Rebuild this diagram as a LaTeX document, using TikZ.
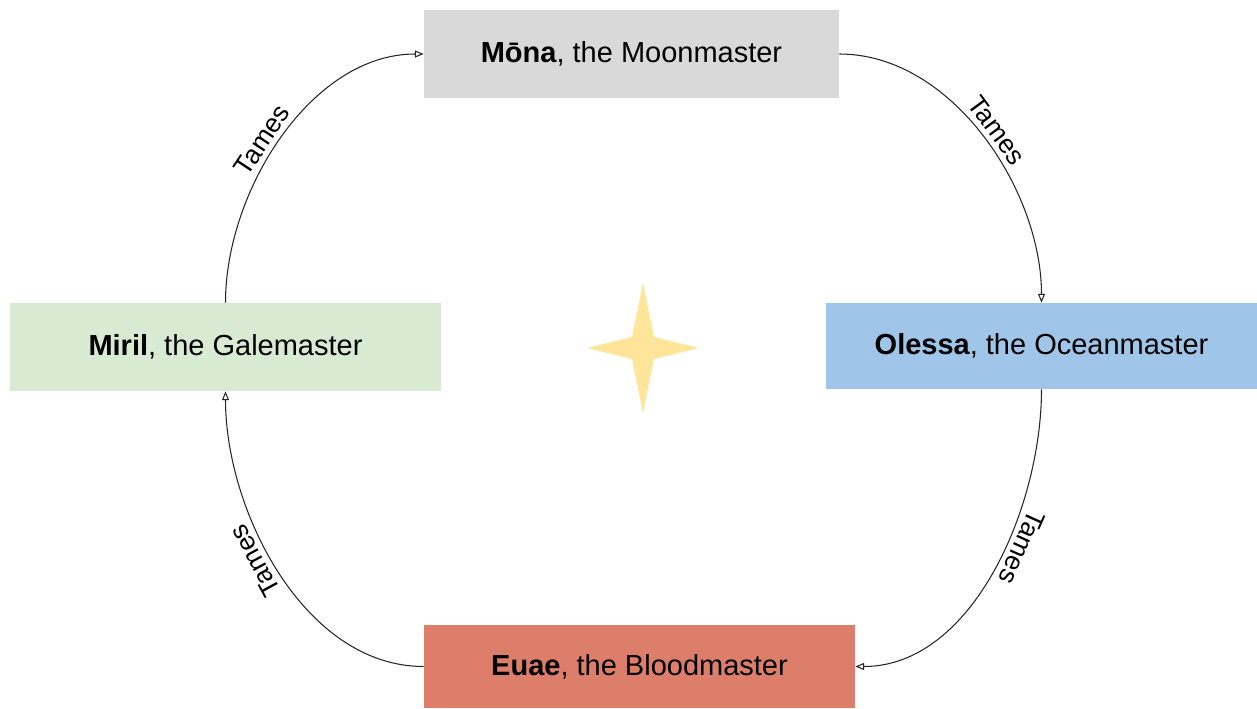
\documentclass[tikz,border=0pt]{standalone}
\usepackage{fontspec}
\setmainfont{Liberation Sans}
\usetikzlibrary{arrows.meta}
\definecolor{moongray}{HTML}{D9D9D9}
\definecolor{oceanblue}{HTML}{9FC5E8}
\definecolor{galegreen}{HTML}{D9EAD3}
\definecolor{bloodred}{HTML}{DD7E6B}
\definecolor{stargold}{HTML}{FFE599}
\begin{document}
\begin{tikzpicture}[
    master/.style={minimum width=8.62cm, minimum height=1.76cm, inner sep=0pt, font=\fontsize{16.5}{20}\selectfont},
    tames/.style={-{Triangle[open, length=5pt, width=4pt]}, line width=0.6pt, draw=black!85, looseness=0.9},
    lbl/.style={sloped, above, allow upside down, inner sep=3pt, font=\fontsize{15}{18}\selectfont}]
  \useasboundingbox (0,0) rectangle (25.14,14.16);
  % the four masters
  \node[master, fill=moongray, minimum width=8.3cm] (mona) at (12.63,13.08) {\textbf{Mōna}, the Moonmaster};
  \node[master, fill=oceanblue, minimum height=1.72cm] (olessa) at (20.83,7.24) {\textbf{Olessa}, the Oceanmaster};
  \node[master, fill=galegreen] (miril) at (4.51,7.22) {\textbf{Miril}, the Galemaster};
  \node[master, fill=bloodred, minimum height=1.66cm] (euae) at (12.79,0.83) {\textbf{Euae}, the Bloodmaster};
  % star in the middle
  \fill[stargold] (12.86,8.5) -- (13.08,7.42) -- (13.98,7.2) -- (13.08,6.98) -- (12.86,5.9)
    -- (12.64,6.98) -- (11.74,7.2) -- (12.64,7.42) -- cycle;
  % who tames whom
  \draw[tames] (miril.north) to[out=90, in=180] node[lbl, pos=0.46] {Tames} (mona.west);
  \draw[tames] (mona.east) to[out=0, in=90] node[lbl, pos=0.51] {Tames} (olessa.north);
  \draw[tames] (olessa.south) to[out=-90, in=0] node[lbl, pos=0.41] {Tames} (euae.east);
  \draw[tames] (euae.west) to[out=180, in=-90] node[lbl, pos=0.56] {Tames} (miril.south);
\end{tikzpicture}
\end{document}
